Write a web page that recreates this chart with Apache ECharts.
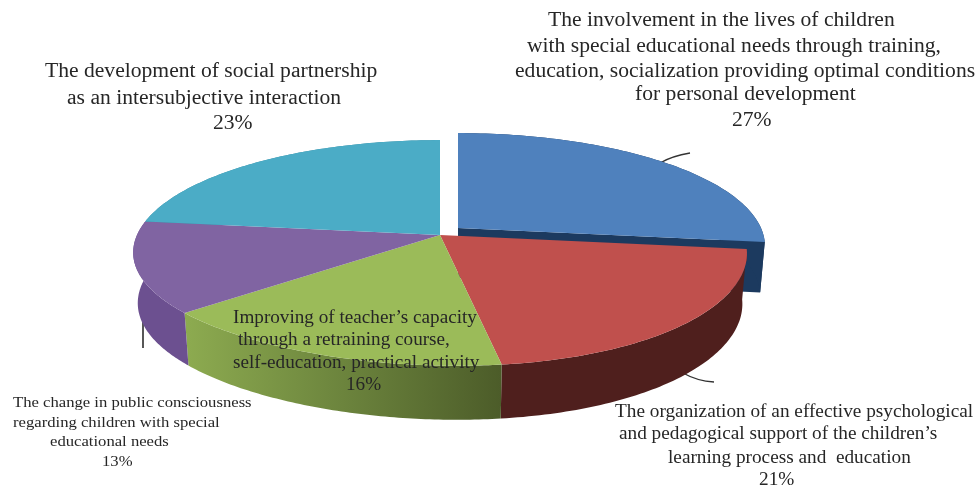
<!DOCTYPE html>
<html>
<head>
<meta charset="utf-8">
<title>Pie</title>
<style>
  html, body { margin: 0; padding: 0; background: #fff; }
  #main { width: 980px; height: 488px; }
</style>
<script src="https://cdn.jsdelivr.net/npm/echarts@6/dist/echarts.min.js"></script>
</head>
<body>
<div id="main"></div>
<script>
// clockwise from 12 o'clock
var categories = [
  ['The involvement in the lives of children', 'with special educational needs through training,', 'education, socialization providing optimal conditions', 'for personal development'],
  ['The organization of an effective psychological', 'and pedagogical support of the children\u2019s', 'learning process and  education'],
  ['Improving of teacher\u2019s capacity', 'through a retraining course,', 'self-education, practical activity'],
  ['The change in public consciousness', 'regarding children with special', 'educational needs'],
  ['The development of social partnership', 'as an intersubjective interaction']
];
var values = [27, 21, 16, 13, 23];
var topColors = ['#4f81bd', '#c0504d', '#9bbb59', '#8064a2', '#4bacc6'];
var sideColors = ['#1c3a5f', '#4f1f1d', null, '#6c5090', '#3a8aa0'];

var total = values.reduce(function (a, b) { return a + b; }, 0);
var startAngles = [];
values.reduce(function (sum, v, i) {
  startAngles[i] = sum / total * 2 * Math.PI;
  return sum + v;
}, 0);

// fake 3d projection of the disc
var cx = 440, cy = 235, rx = 303, ry = 110, persp = 0.159, thick = 50;
function project(a, down) {
  var d = -Math.cos(a);
  var s = 1 / (1 - persp * d);
  var x = rx * Math.sin(a) * s + (d > 0 ? 17 * d * d * d : 0);
  var y = ry * d * s;
  if (down) {
    x = x * 0.985;
    y = y + thick + (d > 0 ? 4 * d : 0);
  }
  return [cx + x, cy + y];
}
function arcPoints(a0, a1, down) {
  var pts = [], n = 80;
  for (var i = 0; i <= n; i++) {
    pts.push(project(a0 + (a1 - a0) * i / n, down));
  }
  return pts;
}
function offsetOf(i) {
  return i === 0 ? [18, -7] : [0, 0]; // first slice is pulled out
}
function sliceRange(i) {
  return [startAngles[i], i + 1 < values.length ? startAngles[i + 1] : 2 * Math.PI];
}

function sideFill(i) {
  if (sideColors[i]) return sideColors[i];
  return new echarts.graphic.LinearGradient(0, 0, 1, 0, [
    { offset: 0, color: '#8dab50' },
    { offset: 0.45, color: '#6f883f' },
    { offset: 1, color: '#4c5c29' }
  ]);
}

function renderSide(params, api) {
  var i = api.value(0), r = sliceRange(i), off = offsetOf(i);
  var pts = arcPoints(r[0], r[1], false).concat(arcPoints(r[0], r[1], true).reverse());
  var children = [];
  if (i === 0) {
    // wall along the cut edge of the pulled out slice
    children.push({
      type: 'polygon',
      shape: { points: [[cx, cy], project(r[1], false), project(r[1], true), [cx, cy + thick]] },
      style: { fill: sideFill(i) }
    });
  }
  children.push({ type: 'polygon', shape: { points: pts }, style: { fill: sideFill(i) } });
  return { type: 'group', x: off[0], y: off[1], children: children };
}

function renderTop(params, api) {
  var i = api.value(0), r = sliceRange(i), off = offsetOf(i);
  return {
    type: 'polygon',
    x: off[0],
    y: off[1],
    shape: { points: [[cx, cy]].concat(arcPoints(r[0], r[1], false)) },
    style: { fill: topColors[i] }
  };
}

// label placement: font, horizontal stretch, left edge and middle of every line
var labelFont = [20, 18, 18, 15, 20];
var labelStretch = [1.08, 1.07, 1.065, 1.11, 1.08];
var labelX = [[548, 527, 515, 635, 732], [615, 619, 668, 759], [233, 238, 233, 346], [13, 13, 50, 102], [45, 67, 213]];
var labelY = [[21, 47, 72, 95, 121], [412, 434, 458, 480], [318, 340, 363, 385], [403, 423, 442, 462], [72, 99, 124]];

var textEls = [];
categories.forEach(function (lines, i) {
  lines.concat([values[i] + '%']).forEach(function (line, j) {
    textEls.push({
      type: 'text',
      x: labelX[i][j],
      y: labelY[i][j],
      scaleX: labelStretch[i],
      z: 50,
      silent: true,
      style: {
        text: line,
        fill: '#262626',
        font: labelFont[i] + 'px "Liberation Serif", serif',
        verticalAlign: 'middle',
        shadowColor: 'rgba(0,0,0,0.35)',
        shadowBlur: 1.5
      }
    });
  });
});

var leaderStyle = { stroke: '#333', lineWidth: 1.3, fill: null };
var leaders = [
  { type: 'bezierCurve', z: 1, silent: true, shape: { x1: 660, y1: 163, x2: 690, y2: 153, cpx1: 672, cpy1: 156 }, style: leaderStyle },
  { type: 'bezierCurve', z: 1, silent: true, shape: { x1: 683, y1: 373, x2: 714, y2: 382, cpx1: 697, cpy1: 381 }, style: leaderStyle },
  { type: 'line', z: 1, silent: true, shape: { x1: 143, y1: 320, x2: 143, y2: 348 }, style: { stroke: '#111', lineWidth: 1.4 } }
];

var seriesData = values.map(function (v, i) { return [i, v]; });

var myChart = echarts.init(document.getElementById('main'), null, { renderer: 'canvas' });
myChart.setOption({
  animation: false,
  backgroundColor: '#fff',
  graphic: { elements: leaders.concat(textEls) },
  series: [
    { type: 'custom', coordinateSystem: 'none', silent: true, z: 2, renderItem: renderSide, data: seriesData },
    { type: 'custom', coordinateSystem: 'none', silent: true, z: 3, renderItem: renderTop, data: seriesData }
  ]
});
</script>
</body>
</html>
